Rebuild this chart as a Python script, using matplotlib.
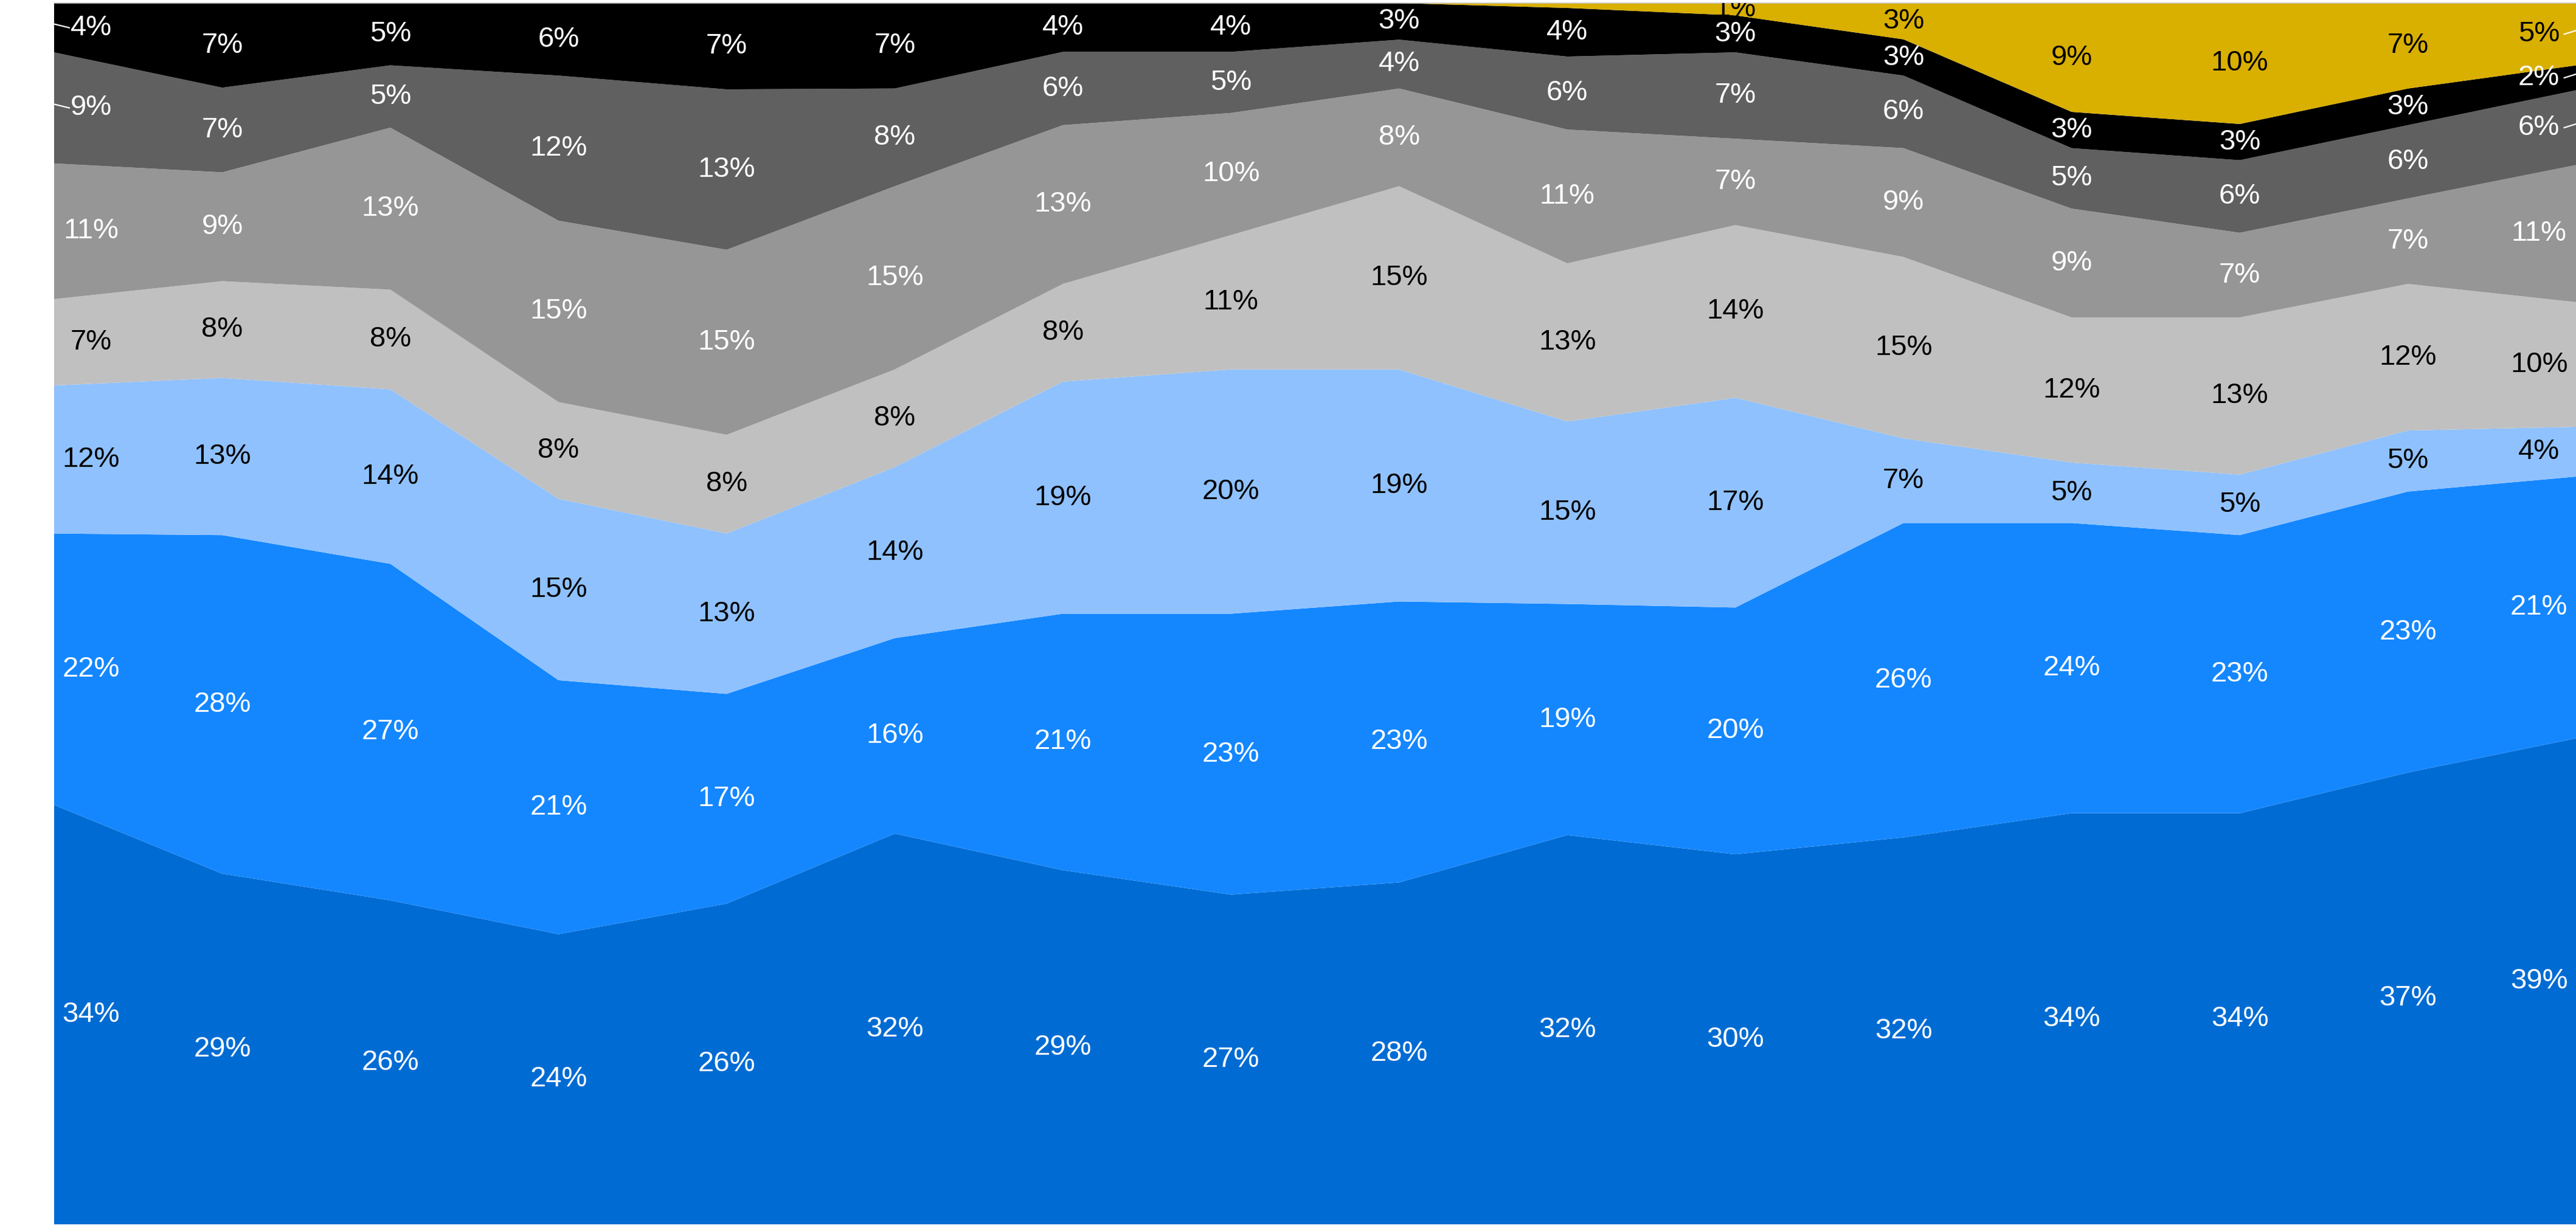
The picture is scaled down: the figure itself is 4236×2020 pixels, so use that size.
import numpy as np
import matplotlib
matplotlib.use('Agg')
import matplotlib.pyplot as plt

periods = list(range(16))
s1 = [34, 29, 26, 24, 26, 32, 29, 27, 28, 32, 30, 32, 34, 34, 37, 39]
s2 = [22, 28, 27, 21, 17, 16, 21, 23, 23, 19, 20, 26, 24, 23, 23, 21]
s3 = [12, 13, 14, 15, 13, 14, 19, 20, 19, 15, 17, 7, 5, 5, 5, 4]
s4 = [7, 8, 8, 8, 8, 8, 8, 11, 15, 13, 14, 15, 12, 13, 12, 10]
s5 = [11, 9, 13, 15, 15, 15, 13, 10, 8, 11, 7, 9, 9, 7, 7, 11]
s6 = [9, 7, 5, 12, 13, 8, 6, 5, 4, 6, 7, 6, 5, 6, 6, 6]
s7 = [4, 7, 5, 6, 7, 7, 4, 4, 3, 4, 3, 3, 3, 3, 3, 2]
s8 = [0, 0, 0, 0, 0, 0, 0, 0, 0, 0.4, 1, 3, 9, 10, 7, 5]

series = [s1, s2, s3, s4, s5, s6, s7, s8]
colors = ['#006CD3', '#1487FF', '#8FC1FF', '#C0C0C0', '#969696', '#606060', '#000000', '#D9AF00']
text_colors = ['white', 'white', 'black', 'black', 'white', 'white', 'white', 'black']

plt.rcParams['font.family'] = ['Liberation Sans', 'DejaVu Sans']

data = np.array(series, dtype=float)
totals = data.sum(axis=0)
norm = data / totals * 100.0

fig = plt.figure(figsize=(4236 / 200, 2020 / 200), dpi=200)
ax = fig.add_axes([89 / 4236, 6 / 2020, 1 - 89 / 4236, 1 - 11 / 2020])
x = np.array(periods, dtype=float)
ax.stackplot(x, norm, colors=colors, linewidth=0)
ax.set_xlim(0, 15)
ax.set_ylim(0, 100)
ax.set_xticks([])
ax.set_yticks([])
for side in ['left', 'right', 'bottom']:
    ax.spines[side].set_visible(False)
ax.spines['top'].set_color('#C8C8C8')
ax.spines['top'].set_linewidth(0.6)

cum = np.cumsum(norm, axis=0)
edge_off = 0.22
leaders_left = {6, 5}
leaders_right = {7, 6, 5}
for i in range(len(series)):
    for j in range(len(periods)):
        v = series[i][j]
        if round(v) <= 0:
            continue
        top = cum[i, j]
        bot = top - norm[i, j]
        yc = (top + bot) / 2
        xc = x[j]
        if j == 0:
            xc = x[j] + edge_off
        elif j == len(periods) - 1:
            xc = x[j] - edge_off
        ax.text(xc, yc, f'{round(v)}%', ha='center', va='center', fontsize=17,
                color=text_colors[i], clip_on=True)
        if j == 0 and i in leaders_left:
            ax.plot([x[0], x[0] + 0.09], [yc + 0.3, yc], color='white', lw=0.8, clip_on=False)
        if j == len(periods) - 1 and i in leaders_right:
            ax.plot([x[-1] - 0.07, x[-1]], [yc, yc + 0.3], color='white', lw=0.8, clip_on=False)

fig.savefig('out.png', dpi=200)
